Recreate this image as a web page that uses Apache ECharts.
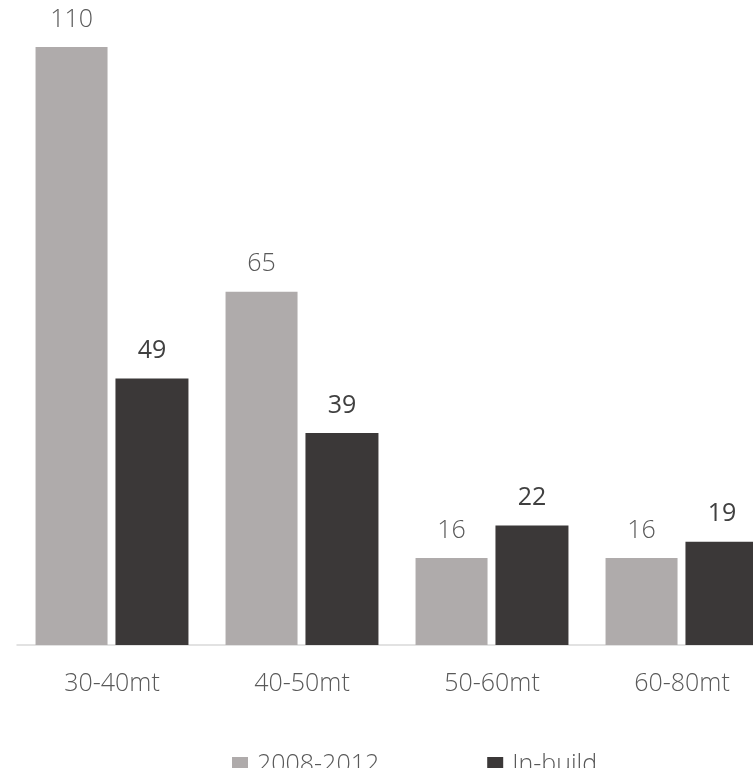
<!DOCTYPE html>
<html>
<head>
<meta charset="utf-8">
<script src="https://cdn.jsdelivr.net/npm/echarts@6/dist/echarts.min.js"></script>
<style>
  html, body { margin: 0; padding: 0; background: #fff; }
  #chart { width: 753px; height: 768px; }
</style>
</head>
<body>
<div id="chart"></div>
<script>
// data
const categories = ['30-40mt', '40-50mt', '50-60mt', '60-80mt'];
const series2008 = [110, 65, 16, 16];
const seriesInBuild = [49, 39, 22, 19];
const seriesNames = ['2008-2012', 'In-build'];

const chart = echarts.init(document.getElementById('chart'));

const FONT = '"Open Sans", sans-serif';

let option = {
  animation: false,
  // plot runs past the right edge, like the source image
  grid: { left: 17, width: 760, top: 47, bottom: 123, containLabel: false, outerBoundsMode: 'none' },
  legend: {
    data: seriesNames,
    left: 227,
    top: 747,
    itemWidth: 16,
    itemHeight: 15,
    itemGap: 108,
    icon: 'rect',
    textStyle: { fontFamily: FONT, fontWeight: 300, fontSize: 25, color: '#595959', padding: [0, 0, 0, 4] }
  },
  xAxis: {
    type: 'category',
    data: categories,
    axisLine: { lineStyle: { color: '#d9d9d9', width: 1.5 } },
    axisTick: { show: false },
    axisLabel: { fontFamily: FONT, fontWeight: 300, fontSize: 25, color: '#595959', margin: 26 }
  },
  yAxis: {
    type: 'value',
    min: 0,
    max: 110,
    show: false,
    splitLine: { show: false }
  },
  series: [
    {
      name: seriesNames[0],
      type: 'bar',
      data: series2008,
      barWidth: 72,
      barGap: '11%',
      itemStyle: { color: '#afabab' },
      label: {
        show: true, position: 'top', distance: 15,
        fontFamily: FONT, fontWeight: 300, fontSize: 25, color: '#595959'
      }
    },
    {
      name: seriesNames[1],
      type: 'bar',
      data: seriesInBuild,
      barWidth: 73,
      itemStyle: { color: '#3b3838' },
      label: {
        show: true, position: 'top', distance: 15,
        fontFamily: FONT, fontWeight: 400, fontSize: 25, color: '#404040'
      }
    }
  ]
};

chart.setOption(option);
</script>
</body>
</html>
